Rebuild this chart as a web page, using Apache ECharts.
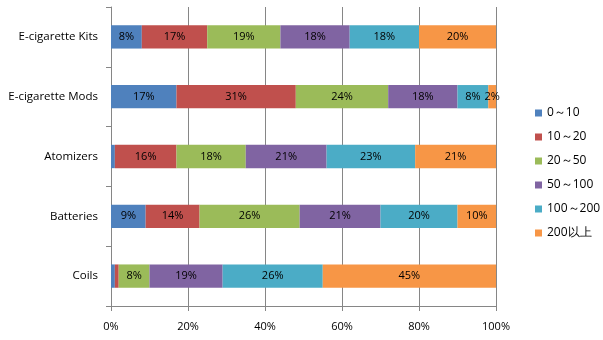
<!DOCTYPE html>
<html><head><meta charset="utf-8">
<script src="https://cdn.jsdelivr.net/npm/echarts@6/dist/echarts.min.js"></script>
<style>html,body{margin:0;padding:0;background:#fff}#c{width:603px;height:340px}</style>
</head><body><div id="c"></div>
<script>
const categories = ['E-cigarette Kits','E-cigarette Mods','Atomizers','Batteries','Coils'];
const seriesNames = ['0～10','10～20','20～50','50～100','100～200','200以上'];
const s0 = [8, 17, 1, 9, 1];
const s1 = [17, 31, 16, 14, 1];
const s2 = [19, 24, 18, 26, 8];
const s3 = [18, 18, 21, 21, 19];
const s4 = [18, 8, 23, 20, 26];
const s5 = [20, 2, 21, 10, 45];
const xTicks = [0, 20, 40, 60, 80, 100];
const colors = ['#4F81BD','#C0504D','#9BBB59','#8064A2','#4BACC6','#F79646'];
const font = 'Open Sans, sans-serif';
const all = [s0,s1,s2,s3,s4,s5];
const chart = echarts.init(document.getElementById('c'));
chart.setOption({
  animation:false,
  color: colors,
  grid:{left:111,right:107,top:7,bottom:34},
  legend:{orient:'vertical',left:530,top:102,itemWidth:7,itemHeight:7,itemGap:12,icon:'rect',
    textStyle:{fontFamily:font,fontSize:12,color:'#000'}, data:seriesNames},
  xAxis:{type:'value',min:xTicks[0],max:xTicks[xTicks.length-1],interval:20,
    axisLine:{show:true,lineStyle:{color:'#868686'}},
    axisTick:{show:true,length:5,lineStyle:{color:'#868686'}},
    splitLine:{show:true,lineStyle:{color:'#868686'}},
    axisLabel:{formatter:v=>v+'%',color:'#000',fontFamily:font,fontSize:11,margin:15}},
  yAxis:{type:'category',inverse:true,data:categories,
    axisLine:{show:true,lineStyle:{color:'#868686'}},
    axisTick:{show:true,length:5,lineStyle:{color:'#868686'}},
    axisLabel:{color:'#000',fontFamily:font,fontSize:11.5,margin:13}},
  series: all.map((d,i)=>({
    name:seriesNames[i],type:'bar',stack:'t',barWidth:'39%',data:d,
    label:{show:true,position:'inside',fontFamily:font,fontSize:11,color:'#000',
      formatter:p=>p.value>=2?p.value+'%':''}
  }))
});
</script></body></html>
